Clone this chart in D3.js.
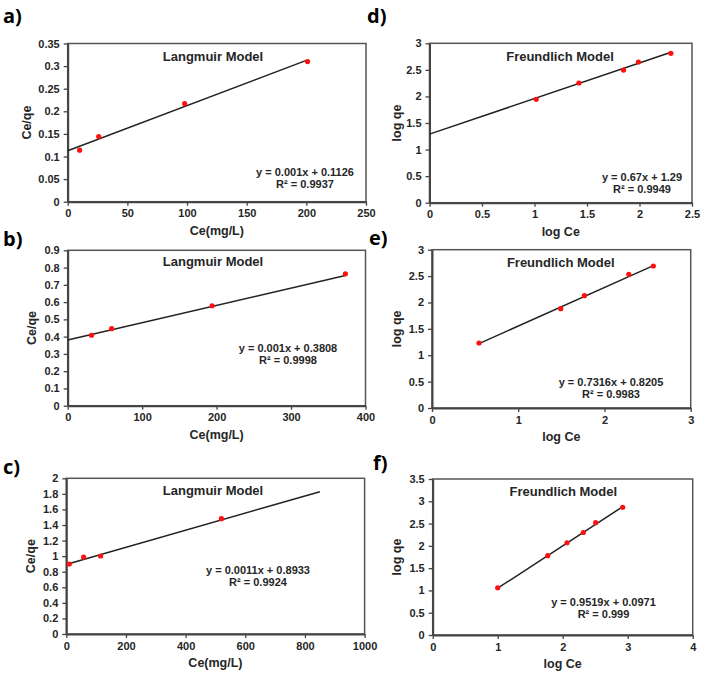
<!DOCTYPE html>
<html>
<head>
<meta charset="utf-8">
<script src="https://cdn.jsdelivr.net/npm/d3@7"></script>
<style>
body { margin: 0; background: #fff; }
text { font-family: "Liberation Sans", Arial, sans-serif; font-weight: bold; fill: #262626; }
.letter { font-family: "Open Sans", "DejaVu Sans", sans-serif; font-weight: 700; fill: #000; }
</style>
</head>
<body>
<script>
// a) Langmuir
var aCe = [10, 26, 98, 201];
var aCeQe = [0.114, 0.144, 0.217, 0.310];
var aXTicks = [0, 50, 100, 150, 200, 250];
var aYTicks = [0, 0.05, 0.1, 0.15, 0.2, 0.25, 0.3, 0.35];
var aFit = { slope: 0.001, icpt: 0.1126, from: 0, to: 200, eq: 'y = 0.001x + 0.1126', r2: 'R² = 0.9937' };

// b) Langmuir
var bCe = [32, 59, 194, 373];
var bCeQe = [0.408, 0.446, 0.579, 0.764];
var bXTicks = [0, 100, 200, 300, 400];
var bYTicks = [0, 0.1, 0.2, 0.3, 0.4, 0.5, 0.6, 0.7, 0.8, 0.9];
var bFit = { slope: 0.001, icpt: 0.3808, from: 0, to: 373, eq: 'y = 0.001x + 0.3808', r2: 'R² = 0.9998' };

// c) Langmuir
var cCe = [10, 58, 115, 520];
var cCeQe = [0.899, 0.988, 1.002, 1.481];
var cXTicks = [0, 200, 400, 600, 800, 1000];
var cYTicks = [0, 0.2, 0.4, 0.6, 0.8, 1, 1.2, 1.4, 1.6, 1.8, 2];
var cFit = { slope: 0.0011, icpt: 0.8933, from: 8, to: 850, eq: 'y = 0.0011x + 0.8933', r2: 'R² = 0.9924' };

// d) Freundlich
var dLogCe = [1.016, 1.423, 1.848, 1.99, 2.299];
var dLogQe = [1.946, 2.253, 2.497, 2.648, 2.812];
var dXTicks = [0, 0.5, 1, 1.5, 2, 2.5];
var dYTicks = [0, 0.5, 1, 1.5, 2, 2.5, 3];
var dFit = { slope: 0.67, icpt: 1.29, from: 0, to: 2.3, eq: 'y = 0.67x + 1.29', r2: 'R² = 0.9949' };

// e) Freundlich
var eLogCe = [0.545, 1.493, 1.767, 2.282, 2.567];
var eLogQe = [1.232, 1.882, 2.128, 2.533, 2.691];
var eXTicks = [0, 1, 2, 3];
var eYTicks = [0, 0.5, 1, 1.5, 2, 2.5, 3];
var eFit = { slope: 0.7316, icpt: 0.8205, from: 0.545, to: 2.567, eq: 'y = 0.7316x + 0.8205', r2: 'R² = 0.9983' };

// f) Freundlich
var fLogCe = [1.0, 1.77, 2.066, 2.317, 2.507, 2.923];
var fLogQe = [1.06, 1.78, 2.07, 2.30, 2.52, 2.865];
var fXTicks = [0, 1, 2, 3, 4];
var fYTicks = [0, 0.5, 1, 1.5, 2, 2.5, 3, 3.5];
var fFit = { slope: 0.9519, icpt: 0.0971, from: 1.0, to: 2.923, eq: 'y = 0.9519x + 0.0971', r2: 'R² = 0.999' };

var width = 702;
var height = 686;

var svg = d3.select('body').append('svg')
  .attr('width', width)
  .attr('height', height);

// box = [left, right, top, bottom]; title/eq positions in px
var panels = [
  { letter: 'a)', lp: [3, 23], box: [67.7, 366, 43.5, 201.7], xs: aCe, ys: aCeQe, xt: aXTicks, yt: aYTicks, fit: aFit,
    title: 'Langmuir Model', tp: [213, 56], ep: [305, 172], xl: 'Ce(mg/L)', yl: 'Ce/qe', ylx: 27 },
  { letter: 'b)', lp: [3, 246], box: [67.7, 365.5, 250.3, 405.7], xs: bCe, ys: bCeQe, xt: bXTicks, yt: bYTicks, fit: bFit,
    title: 'Langmuir Model', tp: [213, 261.5], ep: [288, 347.5], xl: 'Ce(mg/L)', yl: 'Ce/qe', ylx: 32 },
  { letter: 'c)', lp: [3, 474], box: [66.3, 364.6, 478.3, 634], xs: cCe, ys: cCeQe, xt: cXTicks, yt: cYTicks, fit: cFit,
    title: 'Langmuir Model', tp: [213, 490], ep: [258, 570], xl: 'Ce(mg/L)', yl: 'Ce/qe', ylx: 31 },
  { letter: 'd)', lp: [367, 23], box: [429.5, 692, 43.3, 202.7], xs: dLogCe, ys: dLogQe, xt: dXTicks, yt: dYTicks, fit: dFit,
    title: 'Freundlich Model', tp: [560, 56], ep: [642, 176.7], xl: 'log Ce', yl: 'log qe', ylx: 397 },
  { letter: 'e)', lp: [369, 245], box: [432, 690.7, 249.7, 408], xs: eLogCe, ys: eLogQe, xt: eXTicks, yt: eYTicks, fit: eFit,
    title: 'Freundlich Model', tp: [560.7, 262], ep: [611, 382], xl: 'log Ce', yl: 'log qe', ylx: 397 },
  { letter: 'f)', lp: [373, 470], box: [432.7, 692.7, 479, 635], xs: fLogCe, ys: fLogQe, xt: fXTicks, yt: fYTicks, fit: fFit,
    title: 'Freundlich Model', tp: [563.3, 491], ep: [603.5, 601.7], xl: 'log Ce', yl: 'log qe', ylx: 397 }
];

var fmt = d3.format('~g');

panels.forEach(function(p) {
  var L = p.box[0], R = p.box[1], T = p.box[2], B = p.box[3];
  var x = d3.scaleLinear().domain([p.xt[0], p.xt[p.xt.length - 1]]).range([L, R]);
  var y = d3.scaleLinear().domain([p.yt[0], p.yt[p.yt.length - 1]]).range([B, T]);
  var g = svg.append('g');

  g.append('rect')
    .attr('x', L).attr('y', T)
    .attr('width', R - L).attr('height', B - T)
    .attr('fill', 'none')
    .attr('stroke', '#555')
    .attr('stroke-width', 1.5);

  var xAxis = g.append('g')
    .attr('transform', 'translate(0,' + B + ')')
    .call(d3.axisBottom(x).tickValues(p.xt).tickFormat(fmt).tickSize(4).tickSizeOuter(0).tickPadding(4));
  var yAxis = g.append('g')
    .attr('transform', 'translate(' + L + ',0)')
    .call(d3.axisLeft(y).tickValues(p.yt).tickFormat(fmt).tickSize(4).tickSizeOuter(0).tickPadding(4));

  [xAxis, yAxis].forEach(function(ax) {
    ax.select('.domain').attr('stroke', '#444').attr('stroke-width', 2);
    ax.selectAll('.tick line').attr('stroke', '#444').attr('stroke-width', 1.3);
    ax.selectAll('.tick text')
      .attr('font-family', '"Liberation Sans", Arial, sans-serif')
      .attr('font-weight', 'bold')
      .attr('font-size', 11)
      .attr('fill', '#262626');
  });

  // trend line
  var line = d3.line()
    .x(function(d) { return x(d); })
    .y(function(d) { return y(p.fit.slope * d + p.fit.icpt); });
  g.append('path')
    .attr('d', line([p.fit.from, p.fit.to]))
    .attr('fill', 'none')
    .attr('stroke', '#222')
    .attr('stroke-width', 1.5);

  // points
  g.selectAll('circle').data(p.xs).enter().append('circle')
    .attr('cx', function(d) { return x(d); })
    .attr('cy', function(d, i) { return y(p.ys[i]); })
    .attr('r', 2.6)
    .attr('fill', '#ff1010');

  g.append('text')
    .attr('x', p.tp[0]).attr('y', p.tp[1])
    .attr('text-anchor', 'middle').attr('dominant-baseline', 'central')
    .attr('font-size', 13)
    .text(p.title);

  g.append('text')
    .attr('x', p.ep[0]).attr('y', p.ep[1])
    .attr('text-anchor', 'middle').attr('dominant-baseline', 'central')
    .attr('font-size', 11)
    .text(p.fit.eq);
  g.append('text')
    .attr('x', p.ep[0]).attr('y', p.ep[1] + 12)
    .attr('text-anchor', 'middle').attr('dominant-baseline', 'central')
    .attr('font-size', 11)
    .text(p.fit.r2);

  g.append('text')
    .attr('x', (L + R) / 2).attr('y', B + 29)
    .attr('text-anchor', 'middle').attr('dominant-baseline', 'central')
    .attr('font-size', 12.5)
    .text(p.xl);

  g.append('text')
    .attr('transform', 'translate(' + p.ylx + ',' + ((T + B) / 2) + ') rotate(-90)')
    .attr('text-anchor', 'middle').attr('dominant-baseline', 'central')
    .attr('font-size', 12.5)
    .text(p.yl);

  g.append('text')
    .attr('class', 'letter')
    .attr('x', p.lp[0]).attr('y', p.lp[1])
    .attr('font-size', 20)
    .text(p.letter);
});
</script>
</body>
</html>
